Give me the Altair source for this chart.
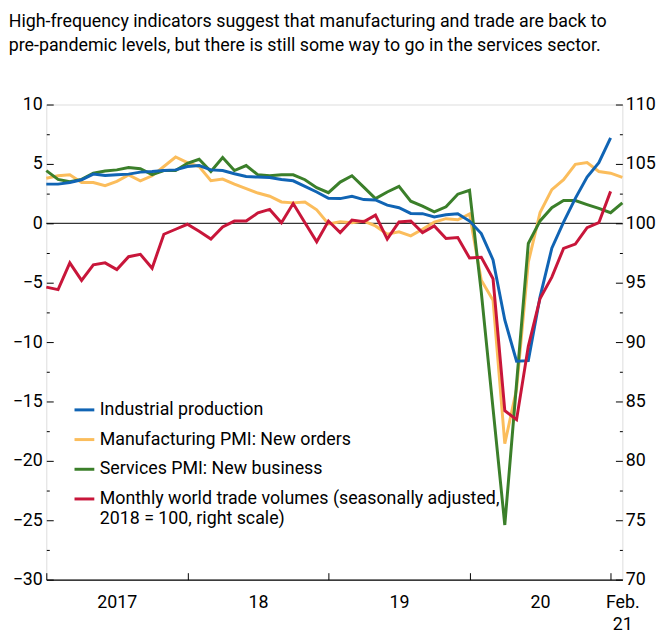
import altair as alt
import pandas as pd

FONT = "Liberation Sans Narrow, Arial Narrow, Roboto, sans-serif"

# month index 0 = Jan 2017 ... 49 = Feb 2021
ip = [3.3, 3.3, 3.44, 3.67, 4.14, 4.03, 4.08, 4.14, 4.31, 4.36, 4.44, 4.5, 4.78, 4.86, 4.5, 4.44,
      4.17, 3.94, 3.89, 3.86, 3.69, 3.58, 3.11, 2.64, 2.1, 2.08, 2.28, 2.0, 1.97, 1.53, 1.31, 0.83,
      0.81, 0.53, 0.72, 0.81, 0.19, -0.86, -3.08, -8.14, -11.61, -11.56, -6.19, -2.1, 0.1, 2.1,
      3.9, 5.1, 7.2]
mfg = [3.8, 4.0, 4.08, 3.44, 3.44, 3.17, 3.53, 4.08, 3.58, 4.0, 4.78, 5.58, 5.11, 4.78, 3.58, 3.72,
       3.3, 2.92, 2.55, 2.28, 1.8, 1.72, 1.8, 1.14, -0.05, 0.13, 0.05, 0.19, -0.22, -0.92, -0.72,
       -1.06, -0.5, 0.11, 0.39, 0.3, 0.78, -4.8, -6.47, -18.56, -13.97, -3.28, 0.9, 2.83, 3.67,
       4.97, 5.11, 4.36, 4.22, 3.86]
svc = [4.44, 3.7, 3.5, 3.7, 4.22, 4.4, 4.5, 4.7, 4.6, 4.1, 4.44, 4.44, 5.05, 5.39, 4.36, 5.53,
       4.44, 4.86, 4.08, 4.0, 4.08, 4.08, 3.67, 3.0, 2.58, 3.47, 4.0, 3.05, 2.08, 2.64, 3.11, 1.86,
       1.44, 0.97, 1.39, 2.45, 2.78, -5.8, -15.6, -25.4, -13.5, -1.7, 0.2, 1.31, 1.92, 1.92, 1.58,
       1.25, 0.89, 1.72]
trade = [94.63, 94.42, 96.67, 95.19, 96.5, 96.67, 96.11, 97.19, 97.39, 96.22, 99.08, 99.5, 99.92,
         99.33, 98.67, 99.69, 100.19, 100.19, 100.88, 101.17, 100.05, 101.67, 100.05, 98.44, 100.19,
         99.22, 100.28, 100.13, 100.69, 98.67, 100.11, 100.19, 99.22, 99.78, 98.72, 98.8, 97.08,
         97.14, 95.33, 84.22, 83.47, 89.64, 93.67, 95.47, 97.89, 98.25, 99.64, 100.05, 102.69]

S_IP = "Industrial production"
S_MFG = "Manufacturing PMI: New orders"
S_SVC = "Services PMI: New business"
S_TRD = "Monthly world trade volumes (seasonally adjusted, 2018 = 100, right scale)"
TRD_LINES = ["Monthly world trade volumes (seasonally adjusted,", "2018 = 100, right scale)"]
names = [S_IP, S_MFG, S_SVC, S_TRD]
colors = ["#1064b4", "#fbbd5c", "#3b7f2a", "#c8163a"]

title_lines = ["High-frequency indicators suggest that manufacturing and trade are back to",
               "pre-pandemic levels, but there is still some way to go in the services sector."]

left_major = [-30, -25, -20, -15, -10, -5, 0, 5, 10]
left_minor = [-27.5, -22.5, -17.5, -12.5, -7.5, -2.5, 2.5, 7.5]
right_major = [70, 75, 80, 85, 90, 95, 100, 105, 110]
right_minor = [72.5, 77.5, 82.5, 87.5, 92.5, 97.5, 102.5, 107.5]
x_tick_pos = [0, 12, 24, 36, 48]
x_label_pos = [6, 18, 30, 42, 49]
x_labels = ["2017", "18", "19", "20", "Feb. 21"]

rows = []
for name, vals in [(S_MFG, mfg), (S_SVC, svc), (S_IP, ip)]:
    for i, v in enumerate(vals):
        rows.append({"idx": i, "value": v, "series": name})
left_df = pd.DataFrame(rows)
order_map = {S_MFG: 0, S_SVC: 1, S_IP: 2}
left_df["ord"] = left_df["series"].map(order_map)
trade_df = pd.DataFrame({"idx": list(range(len(trade))), "trade": trade, "series": S_TRD})
zero_df = pd.DataFrame({"x0": [0], "x1": [49], "y": [0]})

xscale = alt.Scale(domain=[0, 49], nice=False, zero=False)
lscale = alt.Scale(domain=[-30, 10], nice=False, zero=False)
rscale = alt.Scale(domain=[70, 110], nice=False, zero=False)
cscale = alt.Scale(domain=names, range=colors)

def lab_expr():
    parts = []
    for p, l in zip(x_label_pos, x_labels):
        if " " in l:
            s = "[" + ", ".join("'" + t + "'" for t in l.split(" ")) + "]"
        else:
            s = "'" + l + "'"
        parts.append((p, s))
    expr = "''"
    for p, s in reversed(parts):
        expr = f"datum.value == {p} ? {s} : ({expr})"
    return expr

legend_expr = ("datum.label == '" + S_TRD + "' ? [" +
               ", ".join("'" + t + "'" for t in TRD_LINES) + "] : datum.label")

common_axis = dict(grid=False, title=None, labelFont=FONT, labelFontSize=18,
                   labelColor="black", tickColor="black", tickWidth=1)

lines = alt.Chart(left_df).mark_line(strokeWidth=3).encode(
    x=alt.X("idx:Q", scale=xscale,
            axis=alt.Axis(orient="bottom", values=x_label_pos, ticks=False, domain=True,
                          domainColor="black", domainWidth=1.2, labelExpr=lab_expr(),
                          labelPadding=14, labelFlush=False, labelOverlap=False,
                          labelBound=False, labelLineHeight=22, **common_axis)),
    y=alt.Y("value:Q", scale=lscale,
            axis=alt.Axis(orient="left", values=left_major, tickSize=7, offset=-7,
                          domain=False, labelPadding=4, **common_axis)),
    color=alt.Color("series:N", scale=cscale,
                    legend=alt.Legend(orient="none", legendX=27, legendY=297, title=None,
                                      symbolType="stroke", symbolSize=400, symbolStrokeWidth=3,
                                      labelFont=FONT, labelFontSize=18, labelColor="black",
                                      labelLimit=600, labelOffset=4, rowPadding=9,
                                      padding=0, labelExpr=legend_expr)),
    order=alt.Order("ord:Q"),
    detail="series:N",
)

zero = alt.Chart(zero_df).mark_rule(color="black", strokeWidth=1).encode(
    x=alt.X("x0:Q", scale=xscale,
            axis=alt.Axis(orient="bottom", values=x_tick_pos, tickSize=7, offset=-7,
                          domain=False, labels=False, **common_axis)),
    x2="x1:Q",
    y=alt.Y("y:Q", scale=lscale,
            axis=alt.Axis(orient="left", values=left_minor, tickSize=3, offset=-3,
                          domain=False, labels=False, **common_axis)),
)

red = alt.Chart(trade_df).mark_line(strokeWidth=3).encode(
    x=alt.X("idx:Q", scale=xscale, axis=None),
    y=alt.Y("trade:Q", scale=rscale,
            axis=alt.Axis(orient="right", values=right_major, tickSize=7, offset=-7,
                          domain=False, labelPadding=3, **common_axis)),
    color=alt.Color("series:N", scale=cscale, legend=None),
)

red_minor = alt.Chart(trade_df).mark_line(opacity=0).encode(
    x=alt.X("idx:Q", scale=xscale, axis=None),
    y=alt.Y("trade:Q", scale=rscale,
            axis=alt.Axis(orient="right", values=right_minor, tickSize=3, offset=-3,
                          domain=False, labels=False, **common_axis)),
)

chart = alt.layer(zero, lines, red, red_minor).resolve_scale(
    y="independent"
).resolve_axis(y="independent", x="independent").properties(
    width=582, height=480,
    autosize=alt.AutoSizeParams(type="none"),
    padding={"left": 38.7, "top": 94.3, "right": 35, "bottom": 52},
    title=alt.TitleParams(text=title_lines, anchor="start", frame="group", dx=-38,
                          offset=41, font=FONT, fontSize=18, fontWeight="normal",
                          color="black", lineHeight=24),
).configure_view(stroke=None).configure(background="white")

chart.save("out.html", embed_options={"renderer": "svg", "actions": False})
